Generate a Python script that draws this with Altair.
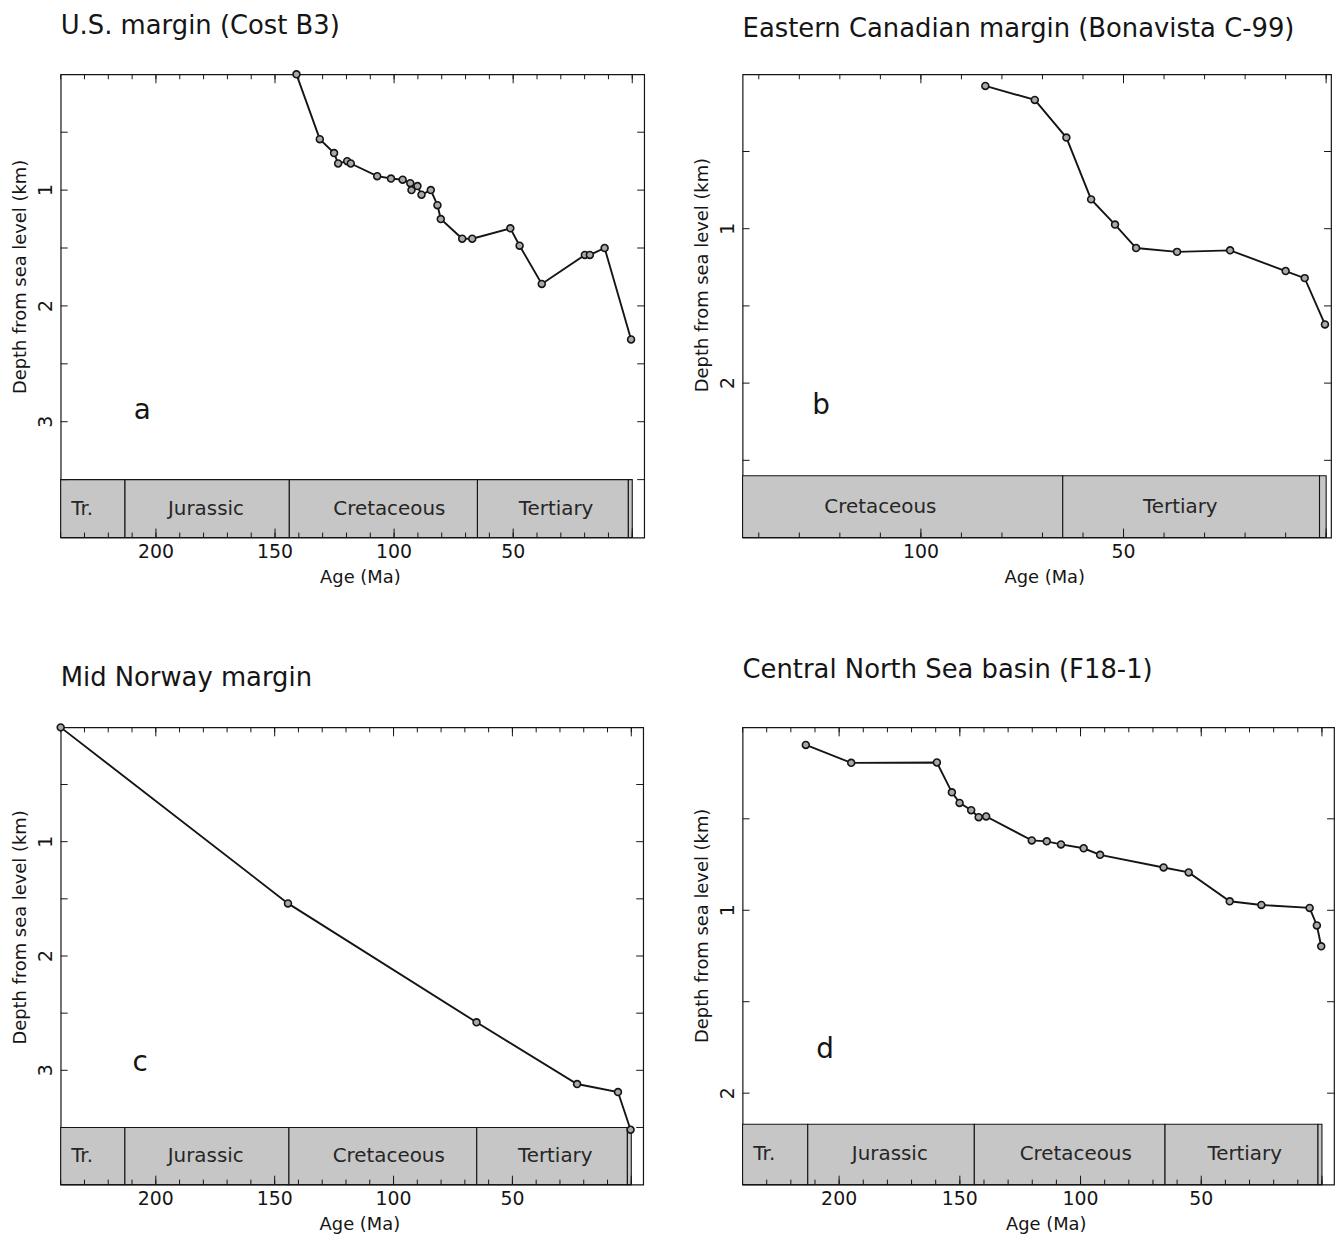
import altair as alt
import pandas as pd

FONT = "DejaVu Sans"
INK = "#151515"

# ---------------- data ----------------
# Panel a: U.S. margin (Cost B3)
a_age = [141, 131.2, 125.2, 123.5, 119.7, 118.2, 107.1, 101.3, 96.4, 93.2, 92.7, 90.2,
         88.5, 84.6, 81.8, 80.4, 71.4, 67.2, 51.2, 47.3, 38.0, 19.9, 17.8, 11.6, 0.5]
a_depth = [0.0, 0.56, 0.68, 0.77, 0.75, 0.77, 0.88, 0.90, 0.91, 0.94, 1.0, 0.965,
           1.04, 1.0, 1.13, 1.25, 1.42, 1.42, 1.33, 1.48, 1.81, 1.56, 1.56, 1.50, 2.29]

# Panel b: Eastern Canadian margin (Bonavista C-99)
b_age = [84.1, 71.9, 64.1, 58.0, 52.1, 46.9, 36.8, 23.7, 10.0, 5.3, 0.3]
b_depth = [0.075, 0.166, 0.41, 0.81, 0.973, 1.125, 1.15, 1.14, 1.274, 1.32, 1.62]

# Panel c: Mid Norway margin
c_age = [240, 144.4, 65.1, 22.8, 5.6, 0.3]
c_depth = [0.0, 1.54, 2.58, 3.12, 3.19, 3.52]

# Panel d: Central North Sea basin (F18-1)
d_age = [213.8, 195.0, 159.5, 153.3, 150.1, 145.3, 142.2, 139.1, 120.2, 114.0, 108.1,
         98.7, 91.9, 65.6, 55.2, 38.2, 25.1, 5.1, 2.1, 0.3]
d_depth = [0.096, 0.194, 0.192, 0.355, 0.413, 0.453, 0.491, 0.487, 0.618, 0.623, 0.640,
           0.661, 0.697, 0.766, 0.793, 0.951, 0.971, 0.987, 1.083, 1.197]

# Geological time scale (Ma)
period_names = ["Tr.", "Jurassic", "Cretaceous", "Tertiary", ""]
period_start = [245, 213, 144, 65, 1.64]
period_end = [213, 144, 65, 1.64, 0]
label_age_full = [231, 179, 102, 32, None]
label_age_b = [None, None, 110, 36, None]

X_TITLE = "Age (Ma)"
Y_TITLE = "Depth from sea level (km)"


def panel(title, ages, depths, xdom, ydom_max, band_top, W, H, xlabels, ylabels,
          yticks, label_ages, letter, letter_xy, title_offset):
    xs = alt.Scale(domain=xdom, nice=False, zero=False)
    ys = alt.Scale(domain=[0, ydom_max], reverse=True, nice=False, zero=False)
    left = xdom[0]

    def X(f):
        return alt.X(f, type="quantitative", scale=xs, axis=None)

    def Y(f):
        return alt.Y(f, type="quantitative", scale=ys, axis=None)

    rows = []
    for n, s, e, la in zip(period_names, period_start, period_end, label_ages):
        if e >= left:
            continue
        rows.append({"name": n, "start": min(s, left), "end": e,
                     "y0": band_top, "y1": ydom_max,
                     "lab": la if la is not None else (min(s, left) + e) / 2,
                     "ymid": (band_top + ydom_max) / 2})
    band_df = pd.DataFrame(rows)

    band = alt.Chart(band_df).mark_rect(fill="#c6c6c6", stroke=INK, strokeWidth=1.1).encode(
        x=X("start"), x2="end", y=Y("y0"), y2="y1")
    band_text = alt.Chart(band_df).mark_text(font=FONT, fontSize=20, color="#262626").encode(
        x=X("lab"), y=Y("ymid"), text="name:N")

    df = pd.DataFrame({"age": ages, "depth": depths})
    line = alt.Chart(df).mark_line(color=INK, strokeWidth=1.9).encode(
        x=X("age"), y=Y("depth"), order=alt.Order("age:Q", sort="descending"))
    pts = alt.Chart(df).mark_point(shape="circle", filled=True, fill="#a9a9a9",
                                   stroke=INK, strokeWidth=1.6, size=48, opacity=1).encode(
        x=X("age"), y=Y("depth"))

    tick_minor = pd.DataFrame({"t": list(range(0, int(left) + 1, 10))})
    tick_major = pd.DataFrame({"t": list(range(0, int(left) + 1, 50))})
    ytk = pd.DataFrame({"d": yticks})

    def xt(data, y0, y1):
        return alt.Chart(data).mark_rule(color=INK, strokeWidth=1).encode(
            x=X("t"), y=alt.value(y0), y2=alt.value(y1))

    def yt(x0, x1):
        return alt.Chart(ytk).mark_rule(color=INK, strokeWidth=1).encode(
            y=Y("d"), x=alt.value(x0), x2=alt.value(x1))

    ticks = [xt(tick_minor, 0, 5), xt(tick_major, 0, 9),
             xt(tick_minor, H, H - 5), xt(tick_major, H, H - 9),
             yt(0, 7), yt(W, W - 7)]

    # tick labels and axis titles
    xl = alt.Chart(pd.DataFrame({"t": xlabels, "s": [str(v) for v in xlabels]})).mark_text(
        font=FONT, fontSize=19, color=INK, baseline="middle").encode(
        x=X("t"), y=alt.value(H + 15), text="s:N")
    yl = alt.Chart(pd.DataFrame({"d": ylabels, "s": [str(v) for v in ylabels]})).mark_text(
        font=FONT, fontSize=19, color=INK, baseline="middle", angle=270).encode(
        y=Y("d"), x=alt.value(-15), text="s:N")
    band_px = H * band_top / ydom_max
    xtitle = alt.Chart(pd.DataFrame({"s": [X_TITLE]})).mark_text(
        font=FONT, fontSize=18, color=INK, baseline="middle").encode(
        x=alt.value(W / 2 + 8), y=alt.value(H + 41), text="s:N")
    ytitle = alt.Chart(pd.DataFrame({"s": [Y_TITLE]})).mark_text(
        font=FONT, fontSize=18, color=INK, baseline="middle", angle=270).encode(
        x=alt.value(-40), y=alt.value(band_px / 2), text="s:N")

    let = alt.Chart(pd.DataFrame({"t": [letter]})).mark_text(
        font=FONT, fontSize=28, color=INK).encode(
        text="t:N", x=alt.value(letter_xy[0]), y=alt.value(letter_xy[1]))

    return alt.layer(band, band_text, *ticks, line, pts, let, xl, yl, xtitle, ytitle).properties(
        width=W, height=H,
        title=alt.TitleParams(text=title, anchor="start", frame="group", fontSize=26,
                              font=FONT, fontWeight="normal", color=INK,
                              offset=title_offset),
    )


pa = panel("U.S. margin (Cost B3)", a_age, a_depth, [240, -5], 4.0, 3.5, 587, 466,
           [200, 150, 100, 50], [1, 2, 3], [0.5, 1, 1.5, 2, 2.5, 3, 3.5],
           label_age_full, "a", (82, 339), 29)
pb = panel("Eastern Canadian margin (Bonavista C-99)", b_age, b_depth, [144, -1.2], 3.0, 2.6,
           592, 466, [100, 50], [1, 2], [0.5, 1, 1.5, 2, 2.5],
           label_age_b, "b", (79, 334), 32)
pc = panel("Mid Norway margin", c_age, c_depth, [240, -5], 4.0, 3.5, 586, 460,
           [200, 150, 100, 50], [1, 2, 3], [0.5, 1, 1.5, 2, 2.5, 3, 3.5],
           label_age_full, "c", (80, 338), 30)
pd_ = panel("Central North Sea basin (F18-1)", d_age, d_depth, [240, -5], 2.5, 2.17, 595, 460,
            [200, 150, 100, 50], [1, 2], [0.5, 1, 1.5, 2],
            label_age_full, "d", (83, 325), 44)

chart = alt.concat(pa, pb, pc, pd_, columns=2, spacing={"row": 191, "column": 99},
                   bounds="flush").properties(
    padding={"left": 3, "top": 0, "right": 0, "bottom": 0},
    background="white",
).configure_view(stroke=INK, strokeWidth=1.2)

chart.save("out.html", embed_options={"renderer": "svg", "actions": False})
